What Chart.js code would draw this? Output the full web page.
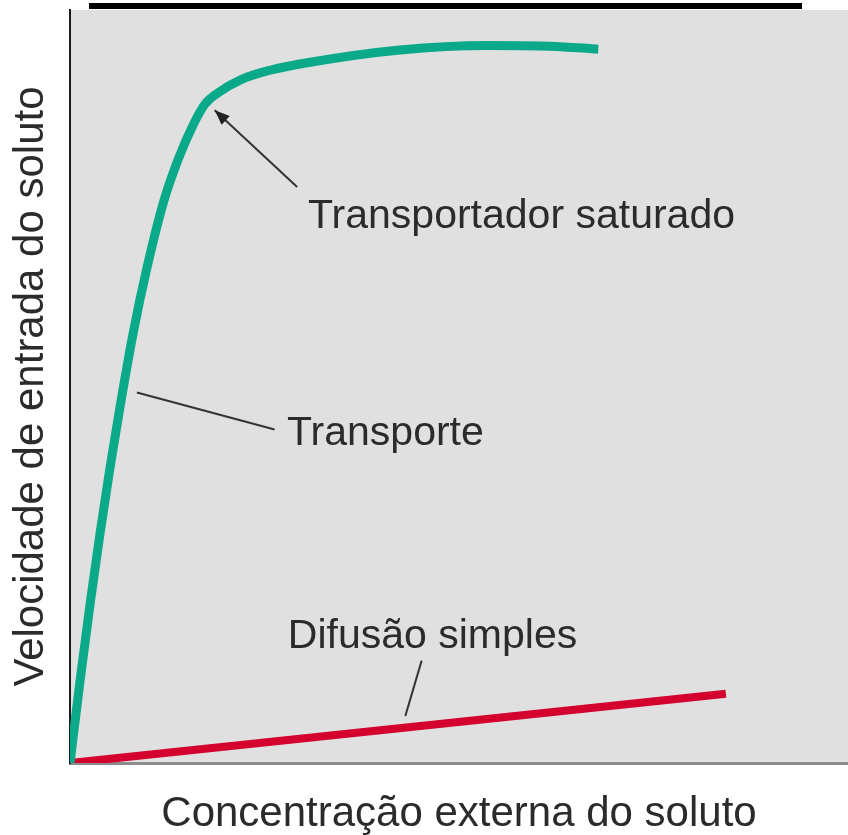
<!DOCTYPE html>
<html>
<head>
<meta charset="utf-8">
<script src="https://cdn.jsdelivr.net/npm/chart.js@4/dist/chart.umd.min.js"></script>
<style>
  html, body { margin: 0; background: #ffffff; }
  #contenedor { width: 848px; height: 835px; }
</style>
</head>
<body>
<div id="contenedor"><canvas id="graficoTransporte"></canvas></div>
<script>
// Datos (unidades arbitrarias 0-100)
const concTransporte = [0, 1.29, 2.63, 3.86, 5.14, 6.56, 8.10, 9.90, 12.08, 13.88, 15.81, 17.35, 19.02, 21.85, 25.71, 30.46, 42.4, 53.6, 61.7, 67.9];
const velTransporte = [0, 10.9, 21.5, 30.5, 39.2, 48.1, 57.0, 65.8, 74.7, 80.1, 84.7, 87.5, 89.0, 90.7, 92.0, 93.0, 94.7, 95.3, 95.2, 94.8];
const concDifusao = [0, 84.3];
const velDifusao = [0, 9.2];

const tituloX = "Concentração externa do soluto";
const tituloY = "Velocidade de entrada do soluto";

// Etiquetas: texto, posición del texto y línea guía (en unidades de datos)
const etiquetas = [
  { texto: "Transportador saturado", x: 30.6, y: 71.1, desde: [29.2, 76.5], hasta: [18.6, 86.7], flecha: true },
  { texto: "Transporte", x: 27.9, y: 42.2, desde: [26.3, 44.3], hasta: [8.6, 49.2], flecha: false },
  { texto: "Difusão simples", x: 28.0, y: 15.3, desde: [45.2, 13.6], hasta: [43.1, 6.25], flecha: false },
];

const fuente = "'Liberation Sans', Arial, Helvetica, sans-serif";
const colorTexto = "#2b2b2b";

const pares = (xs, ys) => xs.map((x, i) => ({ x: x, y: ys[i] }));

// Fondo gris del área del gráfico
const fondoGris = {
  id: "fondoGris",
  beforeDraw(chart) {
    const { ctx, chartArea } = chart;
    ctx.save();
    ctx.fillStyle = "#e0e0e0";
    ctx.fillRect(chartArea.left, chartArea.top, chart.width - chartArea.left, chartArea.bottom - chartArea.top);
    ctx.restore();
  },
};

// Subrayado del título recortado en la parte superior
const subrayado = {
  id: "subrayado",
  afterDraw(chart) {
    const ctx = chart.ctx;
    ctx.save();
    ctx.fillStyle = "#000000";
    ctx.fillRect(89, 3, 713, 6);
    ctx.restore();
  },
};

// Textos y líneas guía
const anotaciones = {
  id: "anotaciones",
  afterDatasetsDraw(chart) {
    const { ctx, scales } = chart;
    const sx = (v) => scales.x.getPixelForValue(v);
    const sy = (v) => scales.y.getPixelForValue(v);
    ctx.save();
    etiquetas.forEach((e) => {
      const x1 = sx(e.desde[0]), y1 = sy(e.desde[1]);
      const x2 = sx(e.hasta[0]), y2 = sy(e.hasta[1]);
      ctx.strokeStyle = "#333333";
      ctx.lineWidth = 2;
      ctx.beginPath();
      ctx.moveTo(x1, y1);
      ctx.lineTo(x2, y2);
      ctx.stroke();
      if (e.flecha) {
        const ang = Math.atan2(y2 - y1, x2 - x1);
        const largo = 15, ancho = 6;
        ctx.fillStyle = "#222222";
        ctx.beginPath();
        ctx.moveTo(x2, y2);
        ctx.lineTo(x2 - largo * Math.cos(ang) + ancho * Math.sin(ang), y2 - largo * Math.sin(ang) - ancho * Math.cos(ang));
        ctx.lineTo(x2 - largo * Math.cos(ang) - ancho * Math.sin(ang), y2 - largo * Math.sin(ang) + ancho * Math.cos(ang));
        ctx.closePath();
        ctx.fill();
      }
      ctx.font = "41px " + fuente;
      ctx.fillStyle = colorTexto;
      ctx.textAlign = "left";
      ctx.textBaseline = "alphabetic";
      ctx.fillText(e.texto, sx(e.x), sy(e.y));
    });
    ctx.restore();
  },
};

new Chart(document.getElementById("graficoTransporte"), {
  type: "line",
  data: {
    datasets: [
      {
        label: "Transporte",
        data: pares(concTransporte, velTransporte),
        borderColor: "#0aa98a",
        borderWidth: 9,
        pointRadius: 0,
        cubicInterpolationMode: "monotone",
        fill: false,
      },
      {
        label: "Difusão simples",
        data: pares(concDifusao, velDifusao),
        borderColor: "#d4002d",
        borderWidth: 8,
        pointRadius: 0,
        fill: false,
      },
    ],
  },
  options: {
    responsive: true,
    maintainAspectRatio: false,
    animation: false,
    layout: { padding: { top: 10, right: 0, left: 0, bottom: 0 } },
    plugins: {
      legend: { display: false },
      tooltip: { enabled: false },
    },
    scales: {
      x: {
        type: "linear",
        min: 0,
        max: 100,
        ticks: { display: false },
        grid: { display: false },
        border: { display: true, color: "#8c8c8c", width: 3 },
        title: {
          display: true,
          text: tituloX,
          color: colorTexto,
          font: { family: fuente, size: 42, lineHeight: 1 },
          padding: 0,
        },
        afterFit: (s) => { s.height = 72; },
      },
      y: {
        type: "linear",
        min: 0,
        max: 100,
        ticks: { display: false },
        grid: { display: false },
        border: { display: true, color: "#1a1a1a", width: 2 },
        title: {
          display: true,
          text: tituloY,
          color: colorTexto,
          font: { family: fuente, size: 42, lineHeight: 1 },
          padding: { top: 10, bottom: 0 },
        },
        afterFit: (s) => { s.width = 70; },
      },
    },
  },
  plugins: [fondoGris, subrayado, anotaciones],
});
</script>
</body>
</html>
